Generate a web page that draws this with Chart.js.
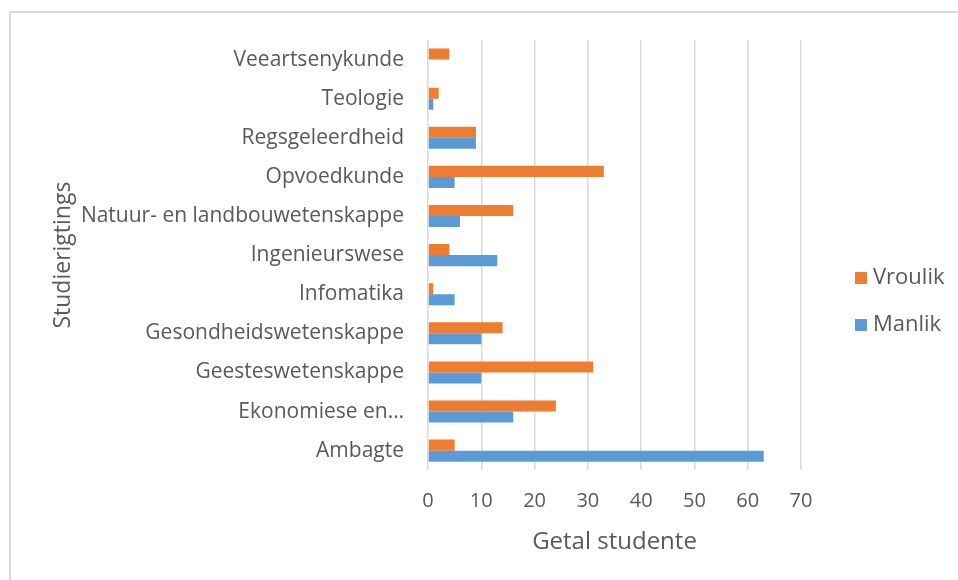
<!DOCTYPE html>
<html>
<head>
<meta charset="utf-8">
<script src="https://cdn.jsdelivr.net/npm/chart.js@4"></script>
<style>
  html, body { margin: 0; padding: 0; background: #fff; }
  #wrap { position: relative; width: 958px; height: 580px; }
  #frame { position: absolute; left: 9px; top: 11px; right: 0; bottom: 0;
           border-top: 2px solid #d9d9d9; border-left: 2px solid #d9d9d9; }
  #chart { position: absolute; left: 0; top: 0; }
</style>
</head>
<body>
<div id="wrap">
  <div id="frame"></div>
  <canvas id="chart" width="958" height="580"></canvas>
</div>
<script>
// studierigtings, top to bottom as in the picture
const categories = ['Veeartsenykunde', 'Teologie', 'Regsgeleerdheid', 'Opvoedkunde',
  'Natuur- en landbouwetenskappe', 'Ingenieurswese', 'Infomatika',
  'Gesondheidswetenskappe', 'Geesteswetenskappe', 'Ekonomiese en…', 'Ambagte'];
const vroulik = [4, 2, 9, 33, 16, 4, 1, 14, 31, 24, 5];
const manlik = [0, 1, 9, 5, 6, 13, 5, 10, 10, 16, 63];
const xMax = 70;
const xStep = 10;

const textColor = '#595959';
const fontFamily = '"Open Sans", "Liberation Sans", sans-serif';

// legend sits to the right of the plot, like the excel one
const sideLegend = {
  id: 'sideLegend',
  afterDraw(chart) {
    const ctx = chart.ctx;
    const x = 855;
    const yTop = 278;
    const step = 47;
    ctx.save();
    ctx.font = '22px ' + fontFamily;
    ctx.textBaseline = 'middle';
    chart.data.datasets.forEach((ds, i) => {
      const y = yTop + i * step;
      ctx.fillStyle = ds.backgroundColor;
      ctx.fillRect(x, y - 6, 12, 12);
      ctx.fillStyle = textColor;
      ctx.fillText(ds.label, x + 18, y);
    });
    ctx.restore();
  }
};

const chart = new Chart(document.getElementById('chart'), {
  type: 'bar',
  data: {
    labels: categories,
    datasets: [
      {
        label: 'Vroulik',
        data: vroulik,
        backgroundColor: '#ed7d31',
        borderColor: '#ed7d31',
      },
      {
        label: 'Manlik',
        data: manlik,
        backgroundColor: '#5b9bd5',
        borderColor: '#5b9bd5',
      },
    ],
  },
  options: {
    indexAxis: 'y',
    responsive: false,
    animation: false,
    categoryPercentage: 0.564,
    barPercentage: 1,
    layout: {
      padding: { top: 40, left: 46, right: 157, bottom: 23 },
    },
    scales: {
      x: {
        min: 0,
        max: xMax,
        ticks: {
          stepSize: xStep,
          color: textColor,
          padding: 19,
          font: { family: fontFamily, size: 20 },
        },
        grid: { color: '#d9d9d9', lineWidth: 1.5, drawTicks: false },
        border: { display: false },
        title: {
          display: true,
          text: 'Getal studente',
          color: textColor,
          font: { family: fontFamily, size: 24 },
          padding: { top: -4, bottom: 0 },
        },
      },
      y: {
        ticks: {
          color: textColor,
          padding: 16,
          autoSkip: false,
          font: { family: fontFamily, size: 21 },
        },
        grid: { display: false },
        border: { display: false },
        title: {
          display: true,
          text: 'Studierigtings',
          color: textColor,
          font: { family: fontFamily, size: 23 },
        },
        afterFit: function (scale) {
          scale.width = 428 - 46;
        },
      },
    },
    plugins: {
      tooltip: { enabled: false },
      legend: { display: false },
    },
  },
  plugins: [sideLegend],
});
</script>
</body>
</html>
